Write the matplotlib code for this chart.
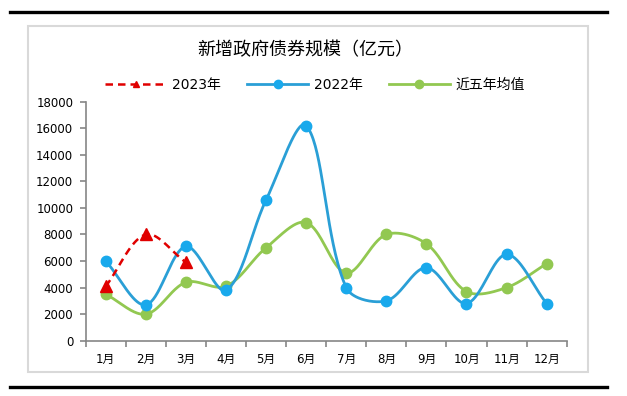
import matplotlib.pyplot as plt
import numpy as np
from matplotlib.patches import Rectangle
from matplotlib.lines import Line2D

plt.rcParams['font.family'] = ['DejaVu Sans', 'Noto Sans CJK SC']

months = ['1月', '2月', '3月', '4月', '5月', '6月', '7月', '8月', '9月', '10月', '11月', '12月']
y2023 = [4100, 8000, 5900]
y2022 = [6000, 2700, 7100, 3800, 10600, 16200, 4000, 3000, 5500, 2800, 6500, 2800]
avg5 = [3500, 2000, 4400, 4100, 7000, 8900, 5100, 8000, 7300, 3700, 4000, 5800]

# pixel size of one x step and of one y unit, used for the smoothing
XPX = 40.1
YPX = 239 / 18000


def smooth(xs, ys, n=40):
    # excel style smoothed line: bezier with chord-length weighted tangents
    p = np.column_stack([np.asarray(xs, float) * XPX, np.asarray(ys, float) * YPX])
    p = np.vstack([p[0], p, p[-1]])
    t = np.linspace(0, 1, n)[:, None]
    out = []
    for i in range(1, len(p) - 2):
        p0, p1, p2, p3 = p[i - 1], p[i], p[i + 1], p[i + 2]
        d01 = np.hypot(*(p1 - p0))
        d12 = np.hypot(*(p2 - p1))
        d23 = np.hypot(*(p3 - p2))
        f1 = d12 / (d01 + d12) / 3 if d01 + d12 > 0 else 0
        f2 = d12 / (d12 + d23) / 3 if d12 + d23 > 0 else 0
        c1 = p1 + (p2 - p0) * f1
        c2 = p2 - (p3 - p1) * f2
        b = (1 - t) ** 3 * p1 + 3 * (1 - t) ** 2 * t * c1 + 3 * (1 - t) * t ** 2 * c2 + t ** 3 * p2
        out.append(b)
    out = np.vstack(out)
    return out[:, 0] / XPX, out[:, 1] / YPX


fig = plt.figure(figsize=(6.27, 3.96), dpi=100)

# outer box + thick rules
fig.patches.append(Rectangle((28 / 627, 1 - 372 / 396), 560 / 627, 346 / 396,
                             transform=fig.transFigure, fill=False, ec='#d9d9d9', lw=1.5))
fig.lines.append(Line2D([10 / 627, 607 / 627], [1 - 12 / 396] * 2, transform=fig.transFigure, color='black', lw=2.4))
fig.lines.append(Line2D([10 / 627, 607 / 627], [1 - 386.5 / 396] * 2, transform=fig.transFigure, color='black', lw=2.4))

ax = fig.add_axes([85.7 / 627, 1 - 340.7 / 396, 481 / 627, 239 / 396])

x = np.arange(12)
blue_line = '#2a9fd6'
blue_mk = '#19a9ec'
green = '#92c851'
red = '#e00000'

sx, sy = smooth(x, avg5)
ax.plot(sx, sy, color=green, lw=2)
ax.plot(x, avg5, 'o', color=green, ms=7.5)

sx, sy = smooth(x, y2022)
ax.plot(sx, sy, color=blue_line, lw=2)
ax.plot(x, y2022, 'o', color=blue_mk, ms=7.5)

sx, sy = smooth(x[:3], y2023)
ax.plot(sx, sy, color=red, lw=1.8, ls=(0, (3, 2)))
ax.plot(x[:3], y2023, '^', color=red, ms=8)

ax.set_xlim(-0.5, 11.5)
ax.set_ylim(0, 18000)
ax.set_yticks(range(0, 18001, 2000))
ax.set_xticks(np.arange(-0.5, 12, 1))
ax.set_xticklabels([])
ax.set_xticks(x, minor=True)
ax.set_xticklabels(months, minor=True)
ax.tick_params(axis='x', which='minor', length=0, pad=9, labelsize=8.5)
ax.tick_params(axis='x', which='major', length=4, color='#868686', width=1.2)
ax.tick_params(axis='y', length=4, color='#868686', width=1.2, labelsize=8.5, pad=5)
for s in ['top', 'right']:
    ax.spines[s].set_visible(False)
for s in ['left', 'bottom']:
    ax.spines[s].set_color('#868686')
    ax.spines[s].set_linewidth(1.2)

fig.text(305 / 627, 1 - 50 / 396, '新增政府债券规模（亿元）', ha='center', va='center', fontsize=13,
         family=['Noto Sans CJK SC'])

handles = [
    Line2D([], [], color=red, lw=1.8, ls=(0, (3, 2)), marker='^', ms=5),
    Line2D([], [], color=blue_line, lw=2, marker='o', mfc=blue_mk, mec=blue_mk, ms=6),
    Line2D([], [], color=green, lw=2, marker='o', ms=6),
]
fig.legend(handles, ['2023年', '2022年', '近五年均值'], loc='center', ncol=3,
           bbox_to_anchor=(315 / 627, 1 - 85 / 396), frameon=False, fontsize=10,
           handlelength=4.4, handletextpad=0.4, columnspacing=1.9, numpoints=1)

fig.savefig('out.png', dpi=100)
